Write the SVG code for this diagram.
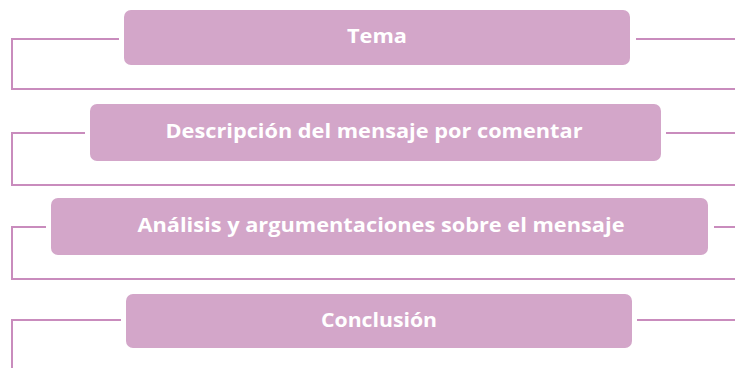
<svg xmlns="http://www.w3.org/2000/svg" width="735" height="368" viewBox="0 0 735 368">
<style>
.box{fill:#D3A6C9;}
.lbl{font-family:"Open Sans","Liberation Sans",sans-serif;font-weight:bold;font-size:20px;fill:#FFFFFF;text-anchor:middle;}
.con{fill:none;stroke:#C98CBD;stroke-width:2;}
</style>
<rect width="735" height="368" fill="#FFFFFF"/>
<g id="connectors">
<polyline class="con" points="119,39 12,39 12,89 735,89"/>
<line class="con" x1="636" y1="39" x2="735" y2="39"/>
<polyline class="con" points="85,133 12,133 12,185 735,185"/>
<line class="con" x1="666" y1="133" x2="735" y2="133"/>
<polyline class="con" points="46,227 12,227 12,279 735,279"/>
<line class="con" x1="714" y1="227" x2="735" y2="227"/>
<polyline class="con" points="121,320 12,320 12,368"/>
<line class="con" x1="637" y1="320" x2="735" y2="320"/>
</g>
<g id="node-tema">
<rect class="box" x="124" y="10" width="506" height="55" rx="7"/>
<text class="lbl" x="377" y="43" textLength="60" lengthAdjust="spacingAndGlyphs">Tema</text>
</g>
<g id="node-descripcion">
<rect class="box" x="90" y="104" width="571" height="57" rx="7"/>
<text class="lbl" x="374" y="138" textLength="417" lengthAdjust="spacingAndGlyphs">Descripción del mensaje por comentar</text>
</g>
<g id="node-analisis">
<rect class="box" x="51" y="198" width="657" height="57" rx="7"/>
<text class="lbl" x="381" y="232" textLength="487" lengthAdjust="spacingAndGlyphs">Análisis y argumentaciones sobre el mensaje</text>
</g>
<g id="node-conclusion">
<rect class="box" x="126" y="294" width="506" height="54" rx="7"/>
<text class="lbl" x="379" y="327" textLength="116" lengthAdjust="spacingAndGlyphs">Conclusión</text>
</g>
</svg>
